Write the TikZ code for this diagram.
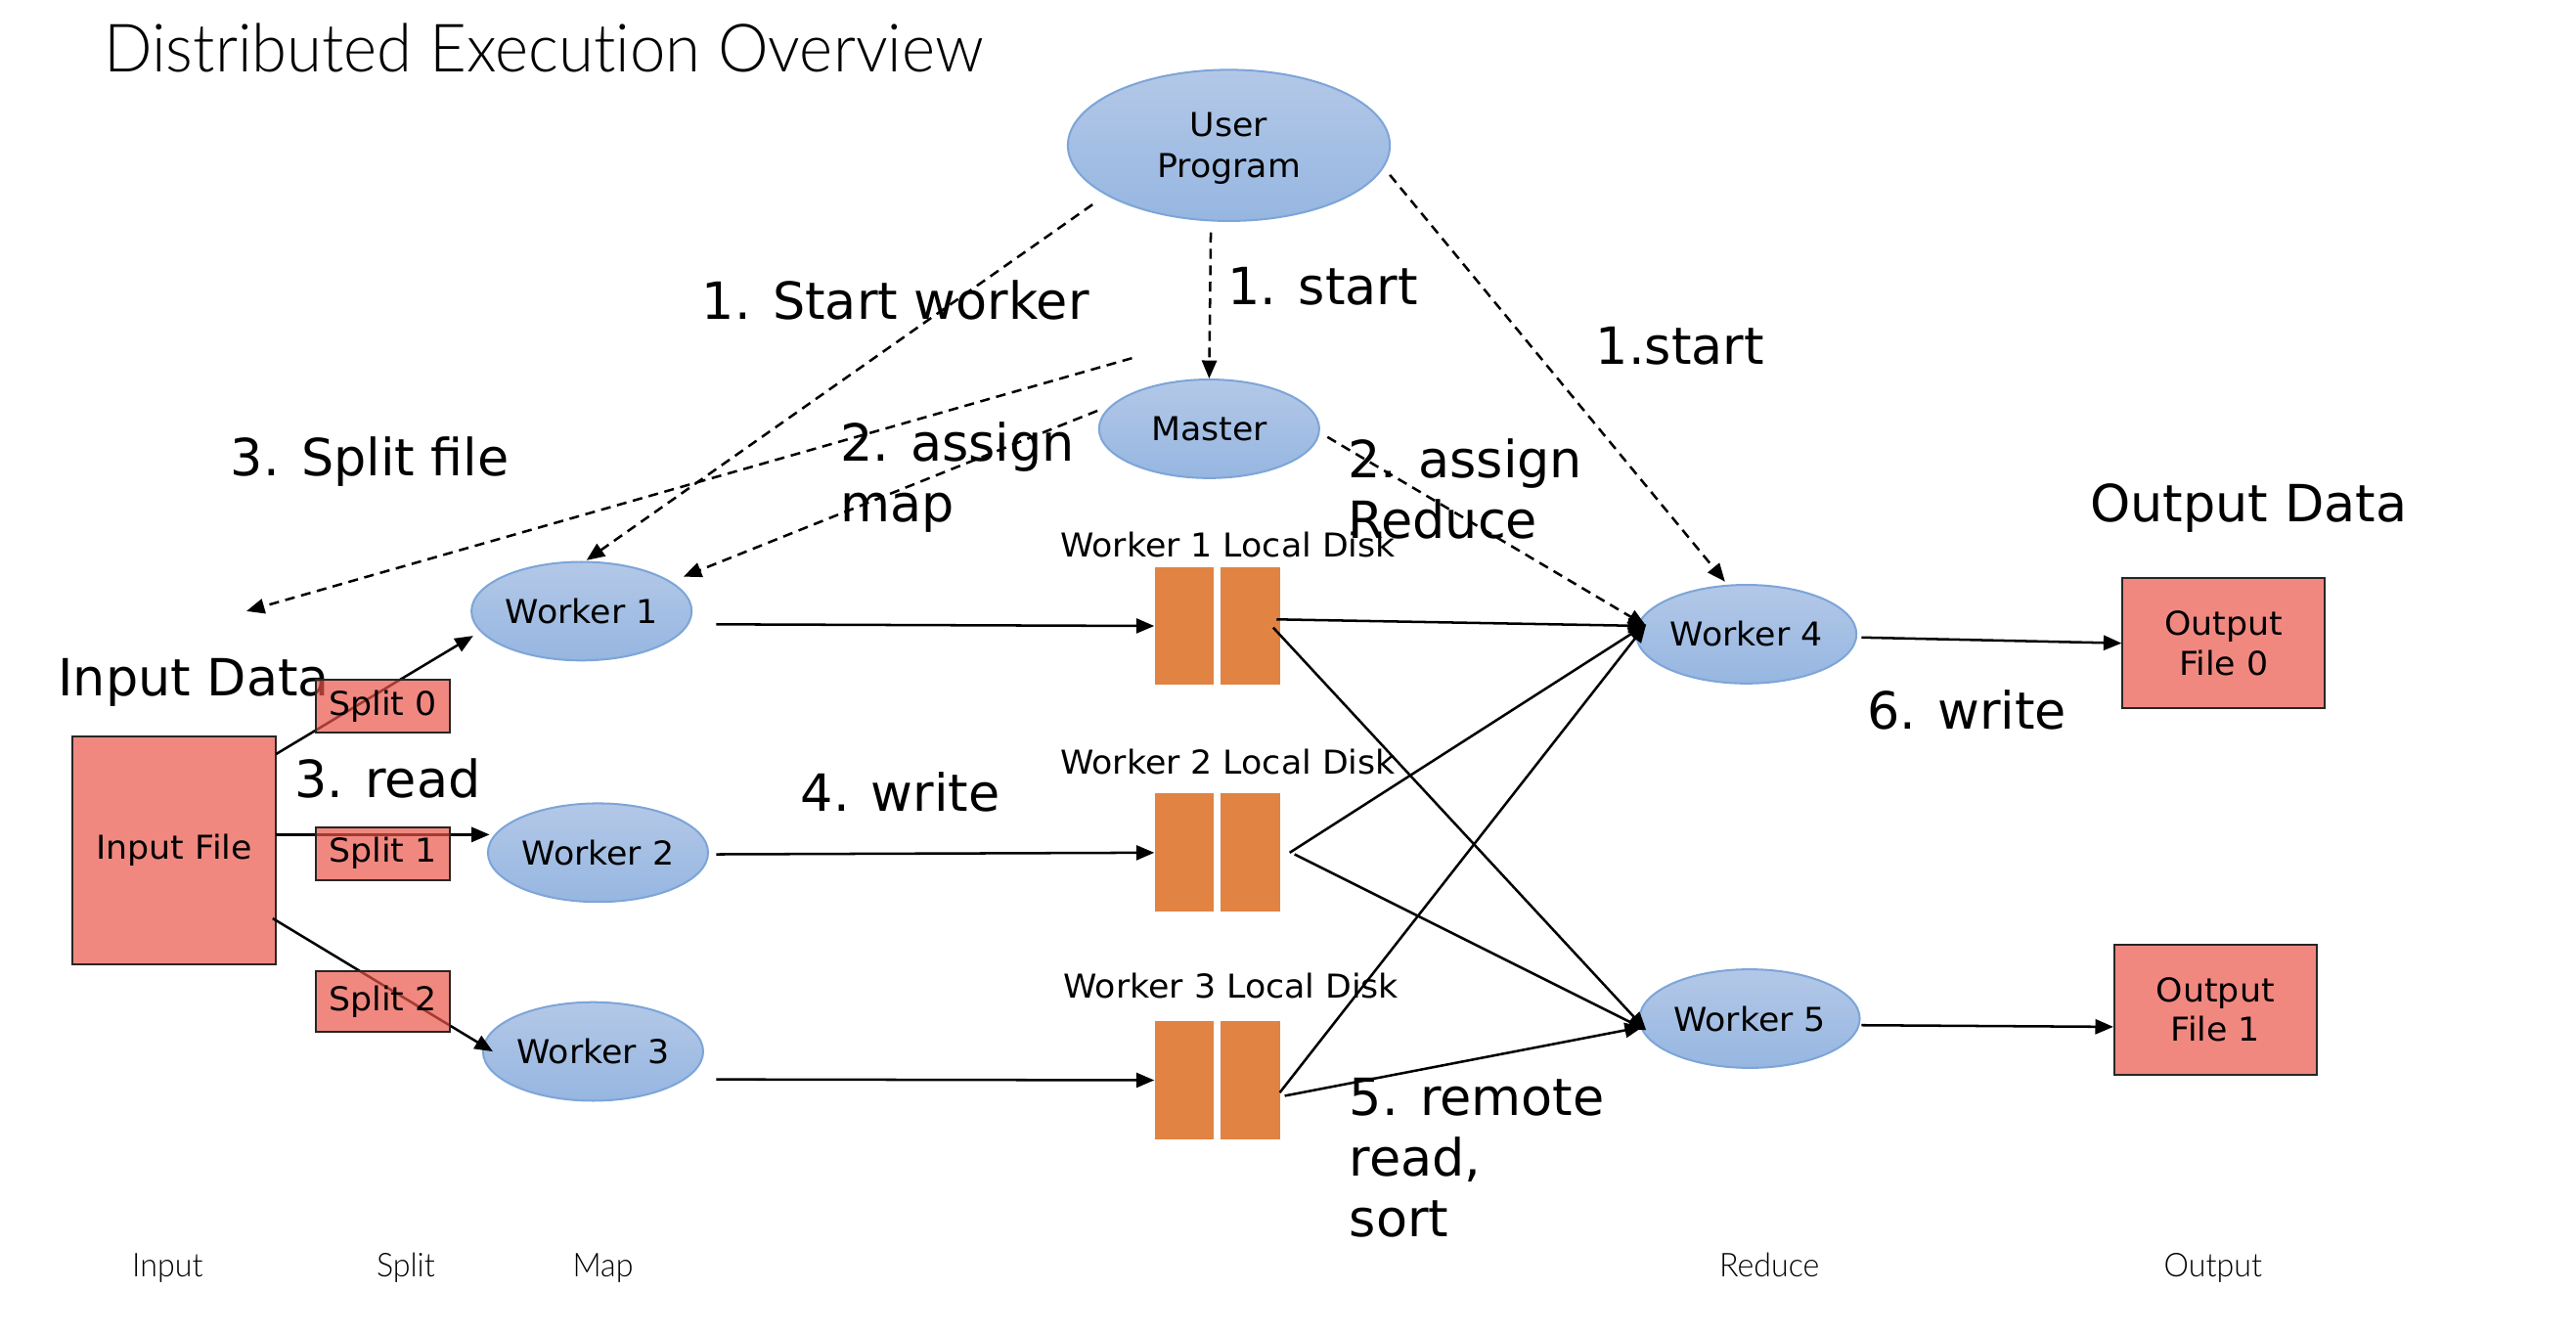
\documentclass[tikz,border=0pt]{standalone}
\usepackage{fontspec}
\setmainfont{DejaVu Sans}
\newfontfamily\ttlfont[FakeStretch=0.957,Ligatures=NoCommon]{Lato Light}
\newfontfamily\smfont[FakeStretch=1.035]{DejaVu Sans}
\usetikzlibrary{arrows.meta,calc,shapes.geometric}
\definecolor{salmon}{RGB}{240,136,128}
\definecolor{salmondk}{RGB}{234,85,74}
\definecolor{diskor}{RGB}{224,131,67}
\definecolor{elltop}{RGB}{179,200,231}
\definecolor{ellbot}{RGB}{150,182,225}
\definecolor{ellline}{RGB}{125,165,216}
\pgfdeclarelayer{fg}
\pgfsetlayers{main,fg}
\begin{document}
\begin{tikzpicture}[x=0.5pt,y=-0.5pt,
  wk/.style={ellipse, draw=ellline, line width=0.6pt, top color=elltop, bottom color=ellbot,
    minimum width=67pt, minimum height=30pt, inner sep=0pt, font=\smfont\fontsize{10}{12.5}\selectfont, align=center},
  filebox/.style={rectangle, draw=black!85, line width=0.6pt, fill=salmon, inner sep=0pt,
    font=\smfont\fontsize{10}{12}\selectfont, align=center},
  splitbox/.style={rectangle, draw=black!85, line width=0.6pt, fill=salmondk, fill opacity=0.7,
    text opacity=1, draw opacity=1, inner sep=0pt, minimum width=41pt, minimum height=16pt,
    font=\smfont\fontsize{10}{12}\selectfont},
  disk/.style={rectangle, fill=diskor, minimum width=18pt, minimum height=36pt, inner sep=0pt},
  big/.style={font=\fontsize{15.6}{18.5}\selectfont, inner sep=0pt, align=left},
  small/.style={font=\smfont\fontsize{10}{12}\selectfont, inner sep=0pt},
  thin/.style={font=\ttlfont\fontsize{10}{12}\selectfont, inner sep=0pt},
  conn/.style={line width=0.75pt, -{Triangle[length=5.5pt,width=4.5pt]}},
  dconn/.style={conn, dash pattern=on 3pt off 2pt},
]
\useasboundingbox (0,0) rectangle (1568,812);

% title
\node[font=\ttlfont\fontsize{20.3}{24}\selectfont, anchor=base west, inner sep=0pt] (title) at (63,44) {Distributed Execution Overview};

% ellipses
\node[wk, minimum width=98pt, minimum height=46pt, text depth=0pt] (up) at (748,88.5) {User\\Program};
\node[wk] (ma) at (736,261) {Master};
\node[wk] (w1) at (354,372) {Worker 1};
\node[wk] (w2) at (364,519) {Worker 2};
\node[wk] (w3) at (361,640) {Worker 3};
\node[wk] (w4) at (1063,386) {Worker 4};
\node[wk] (w5) at (1065,620) {Worker 5};

% files
\node[filebox, minimum width=62pt, minimum height=69.5pt] (inp) at (106,517.5) {Input File};
\node[filebox, minimum width=61.5pt, minimum height=39.5pt] (o0) at (1353.5,391.5) {Output\\File 0};
\node[filebox, minimum width=61.5pt, minimum height=39.5pt] (o1) at (1348.5,614.5) {Output\\File 1};

% disks
\node[disk] (d1a) at (721,381) {};
\node[disk] (d1b) at (761,381) {};
\node[disk] (d2a) at (721,519) {};
\node[disk] (d2b) at (761,519) {};
\node[disk] (d3a) at (721,657.5) {};
\node[disk] (d3b) at (761,657.5) {};
\node[small, anchor=base west] (l1) at (645,339.3) {Worker 1 Local Disk};
\node[small, anchor=base west] (l2) at (645,471.3) {Worker 2 Local Disk};
\node[small, anchor=base west] (l3) at (647,607.3) {Worker 3 Local Disk};

% big labels
\node[big, anchor=base west] (t1) at (427,194.5) {1. Start worker};
\node[big, anchor=base west] (t2) at (747,185.5) {1. start};
\node[big, anchor=base west] (t3) at (971,221.5) {1.start};
\node[big, anchor=base west] (t4) at (140,289.5) {3. Split file};
\node[big, anchor=north west] (t5) at (511,256.5) {2. assign\\map};
\node[big, anchor=north west] (t6) at (820,266.5) {2. assign\\Reduce};
\node[big, anchor=base west] (t7) at (1272,317.5) {Output Data};
\node[big, anchor=base west] (t8) at (35,423.5) {Input Data};
\node[big, anchor=base west] (t9) at (179,485.5) {3. read};
\node[big, anchor=base west] (t10) at (487,493.5) {4. write};
\node[big, anchor=base west] (t11) at (1136,443.5) {6. write};
\node[big, anchor=north west] (t12) at (821,655.5) {5. remote\\read,\\sort};

% bottom phase labels
\node[thin, anchor=base] (p1) at (102,777) {Input};
\node[thin, anchor=base] (p2) at (247,777) {Split};
\node[thin, anchor=base] (p3) at (367,777) {Map};
\node[thin, anchor=base] (p4) at (1077,777) {Reduce};
\node[thin, anchor=base] (p5) at (1347,777) {Output};

% dashed control arrows
\coordinate (sf1) at (689,218);
\coordinate (sf2) at (150,372);
\draw[dconn] ($(up)+(-83,36)$) -- ($(w1)+(3,-31)$);
\draw[dconn] ($(up)+(-11,53)$) -- (ma.north);
\draw[dconn] ($(up)+(98,18)$) -- ($(w4)+(-13,-32)$);
\draw[dconn] (sf1) -- (sf2);
\draw[dconn] ($(ma)+(-68,-11)$) -- ($(w1)+(62,-21)$);
\draw[dconn] ($(ma)+(72,5)$) -- ($(w4)+(-61,-5)$);

% read
\draw[conn] ($(inp)+(62,-58.5)$) -- ($(w1)+(-66,15)$);
\draw[conn] ($(inp)+(62,-9.5)$) -- ($(w2)+(-66,-11)$);
\draw[conn] ($(inp)+(60,41.5)$) -- ($(w3)+(-61,0)$);

% local write
\draw[conn] ($(w1)+(82,8)$) -- (d1a.west);
\draw[conn] ($(w2)+(72,1)$) -- (d2a.west);
\draw[conn] ($(w3)+(75,17)$) -- (d3a.west);

% remote read
\draw[conn] ($(d1b)+(16,-4)$) -- ($(w4)+(-61,-5)$);
\draw[conn] ($(d1b)+(14,1)$) -- ($(w5)+(-63,7)$);
\draw[conn] ($(d2b)+(24,0)$) -- ($(w4)+(-61,-6)$);
\draw[conn] ($(d2b)+(27,1)$) -- ($(w5)+(-63,7)$);
\draw[conn] ($(d3b)+(18,7.5)$) -- ($(w4)+(-61,-6)$);
\draw[conn] ($(d3b)+(21,9.5)$) -- ($(w5)+(-65,5)$);

% output write
\draw[conn] ($(w4)+(70,2)$) -- (o0.west);
\draw[conn] ($(w5)+(68,4)$) -- ($(o1.west)+(0,10.5)$);

% split boxes on top
\begin{pgfonlayer}{fg}
\node[splitbox] (s0) at (233,430) {Split 0};
\node[splitbox] (s1) at (233,519.5) {Split 1};
\node[splitbox, minimum height=18.5pt] (s2) at (233,609.5) {Split 2};
\end{pgfonlayer}
\end{tikzpicture}
\end{document}
